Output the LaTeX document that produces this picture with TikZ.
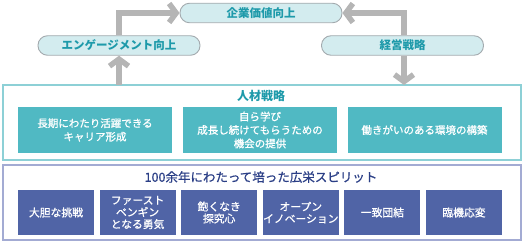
\documentclass[tikz,border=0pt]{standalone}
\usepackage{fontspec}
\setmainfont{Noto Sans CJK JP}
\newfontfamily\jpmed{Noto Sans CJK JP}[FakeBold=0.9]
\usetikzlibrary{arrows.meta}
\definecolor{pillfill}{HTML}{D3ECEF}
\definecolor{pilldraw}{HTML}{A3AAAE}
\definecolor{pilltext}{HTML}{1E9AAA}
\definecolor{arrowgray}{HTML}{B5B5B5}
\definecolor{tealbox}{HTML}{50B9C3}
\definecolor{tealborder}{HTML}{8DD0D6}
\definecolor{bluebox}{HTML}{5064A6}
\definecolor{blueborder}{HTML}{A3ABD3}
\definecolor{bluetitle}{HTML}{2B3F86}
\tikzset{
  pill/.style={draw=pilldraw, line width=0.9pt, fill=pillfill, rounded corners=9.5pt,
    minimum width=162pt, minimum height=19.5pt, inner sep=0pt,
    text=pilltext, font=\fontsize{11.5}{12}\selectfont\bfseries},
  flow/.style={draw=arrowgray, line width=6pt,
    -{Straight Barb[length=7pt,width=19pt,line width=5.5pt]}},
  tealitem/.style={fill=tealbox, minimum width=154pt, minimum height=46pt, inner sep=0pt,
    text=white, align=center, font=\jpmed\fontsize{10.5}{13.5}\selectfont},
  blueitem/.style={fill=bluebox, minimum width=76pt, minimum height=45pt, inner sep=0pt,
    text=white, align=center, font=\jpmed\fontsize{10.8}{12}\selectfont},
}
\begin{document}
\begin{tikzpicture}[x=1pt,y=-1pt]
\useasboundingbox (0,0) rectangle (524,243);
% frames
\node[draw=tealborder, line width=1.5pt, minimum width=518pt, minimum height=75pt, inner sep=0pt] (hr) at (262,122.5) {};
\node[draw=blueborder, line width=1.5pt, minimum width=518pt, minimum height=75pt, inner sep=0pt] (sp) at (262,202.5) {};
% pills
\node[pill] (kv) at (261,13) {企業価値向上};
\node[pill] (eg) at (119,45.5) {エンゲージメント向上};
\node[pill] (ks) at (402.5,45.5) {経営戦略};
% arrows
\coordinate (a1) at (119,85);
\coordinate (a2) at (119,13);
\coordinate (b1) at (404,13);
\coordinate (b2) at (404,85);
\draw[flow] (a1) -- (eg.south -| a1);
\draw[flow] (eg.north -| a2) -- (a2) -- (kv.west);
\draw[flow] (ks.north -| b1) -- (b1) -- (kv.east);
\draw[flow] (ks.south -| b2) -- (b2);
% HR strategy
\node[text=pilltext, font=\fontsize{12}{14}\selectfont\bfseries] (hrt) at (261,96) {人材戦略};
\node[tealitem] (t1) at (95,130) {長期にわたり活躍できる\\キャリア形成};
\node[tealitem] (t2) at (260,130) {自ら学び\\成長し続けてもらうための\\機会の提供};
\node[tealitem] (t3) at (424.5,130) {働きがいのある環境の構築};
% spirit
\node[text=bluetitle, font=\jpmed\fontsize{12.5}{14}\selectfont] (spt) at (261,177) {100余年にわたって培った広栄スピリット};
\node[blueitem] (s1) at (56,212.5) {大胆な挑戦};
\node[blueitem] (s2) at (137.6,212.5) {ファースト\\ペンギン\\となる勇気};
\node[blueitem] (s3) at (219.2,212.5) {飽くなき\\探究心};
\node[blueitem] (s4) at (300.8,212.5) {オープン\\イノベーション};
\node[blueitem] (s5) at (382.4,212.5) {一致団結};
\node[blueitem] (s6) at (464,212.5) {臨機応変};
\end{tikzpicture}
\end{document}
